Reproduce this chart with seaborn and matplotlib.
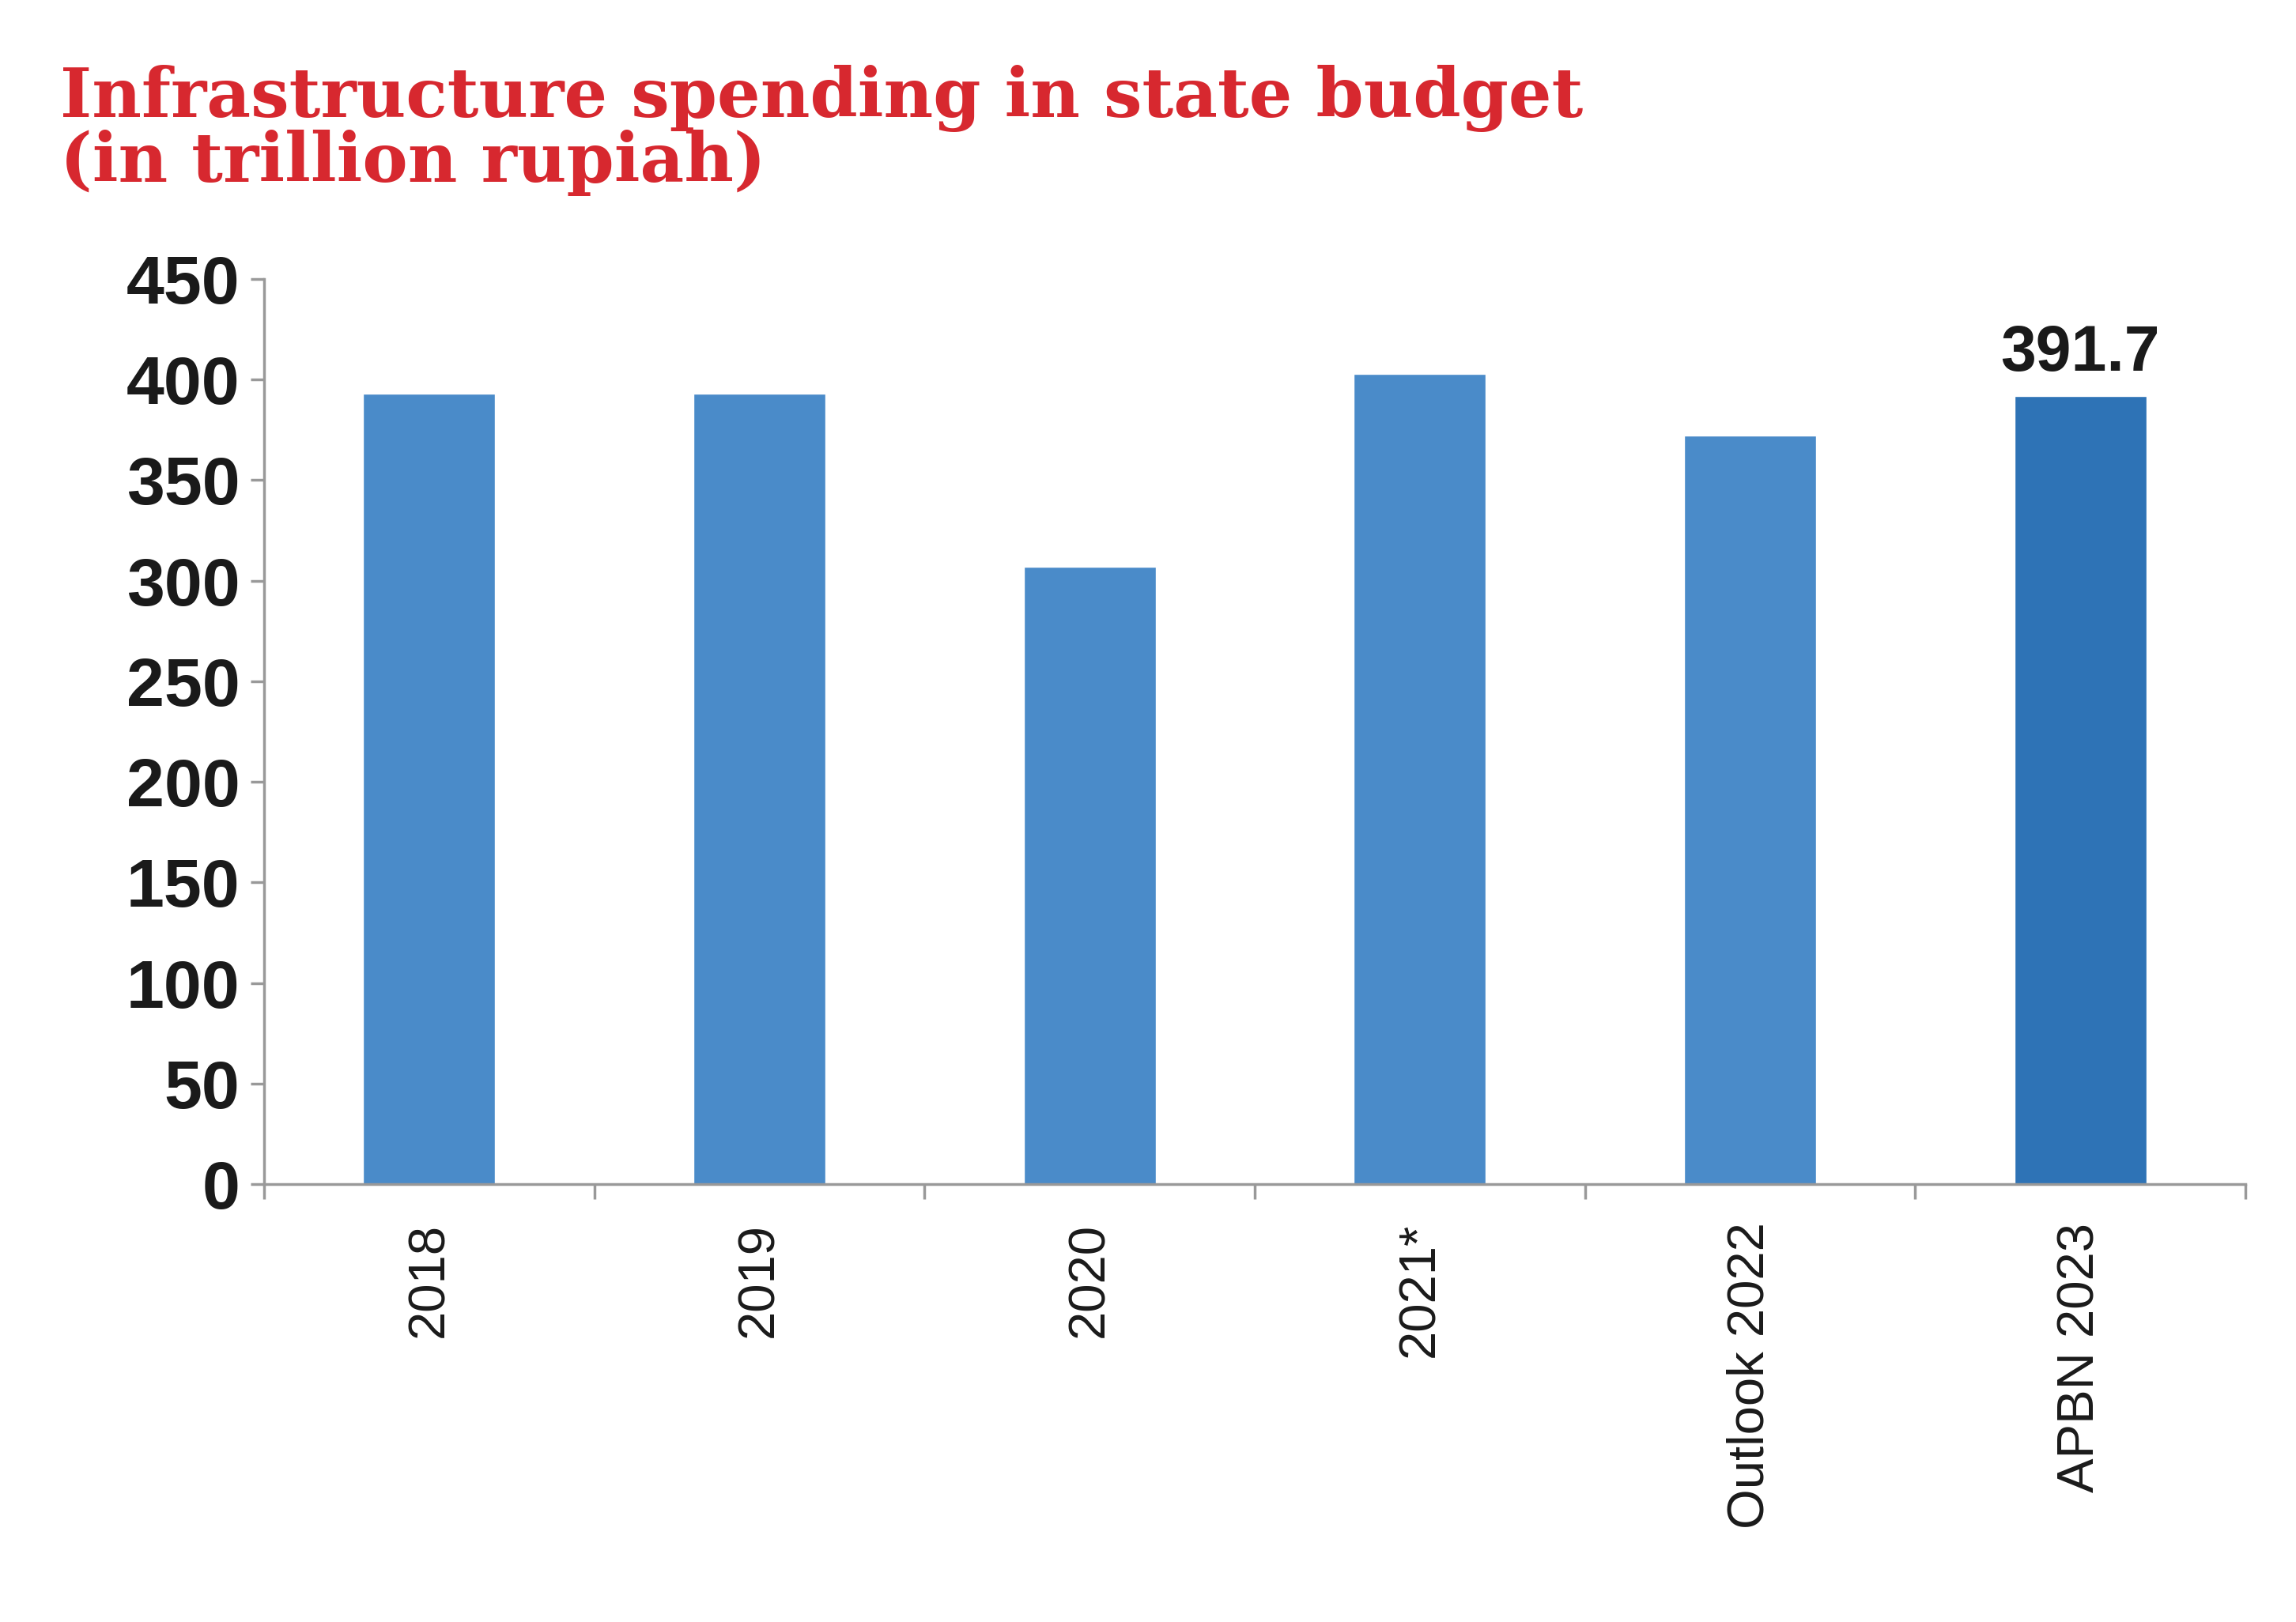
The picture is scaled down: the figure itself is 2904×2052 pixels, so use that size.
import matplotlib
matplotlib.use("Agg")
import matplotlib.pyplot as plt
import seaborn as sns
import pandas as pd
import numpy as np

categories = ["2018", "2019", "2020", "2021*", "Outlook 2022", "APBN 2023"]
values = [393, 393, 307, 403, 372, 391.7]
colors = ["#4a8bc9"] * 5 + ["#2e73b6"]

sns.set_theme(style="white")
plt.rcParams['font.family'] = ['Liberation Sans', 'DejaVu Sans']

df = pd.DataFrame({"cat": categories, "val": values})
fig = plt.figure(figsize=(29.04, 20.52), dpi=100)
ax = fig.add_axes([0.115, 0.27, 0.863, 0.558])
sns.barplot(data=df, x="cat", y="val", hue="cat", palette=colors, legend=False,
            width=0.4, ax=ax, saturation=1)
ax.set_xlim(-0.5, 5.5)
ax.set_ylim(0, 450)
ax.set_yticks(np.arange(0, 451, 50))
ax.set_xlabel("")
ax.set_ylabel("")
for s in ["top", "right"]:
    ax.spines[s].set_visible(False)
for s in ["left", "bottom"]:
    ax.spines[s].set_color("#999999")
    ax.spines[s].set_linewidth(2.5)
ax.tick_params(axis="y", labelsize=62, length=12, width=2.5, color="#999999", direction="out",
               left=True, pad=10, labelcolor="#1a1a1a")
for l in ax.get_yticklabels():
    l.set_fontweight("bold")
ax.tick_params(axis="x", which="major", length=0, labelsize=47, pad=35, labelrotation=90,
               labelcolor="#1a1a1a")
ax.set_xticks(np.arange(-0.5, 5.6, 1), minor=True)
ax.tick_params(axis="x", which="minor", length=14, width=2.5, color="#999999", bottom=True)
ax.text(5, values[5] + 6, "391.7", ha="center", va="bottom", fontsize=58, fontweight="bold", color="#1a1a1a")

fig.text(0.026, 0.96, "Infrastructure spending in state budget\n(in trillion rupiah)",
         ha="left", va="top", fontsize=62, fontweight="bold", color="#d7282f",
         family="DejaVu Serif", linespacing=0.95)
fig.savefig("out.png", dpi=100)
